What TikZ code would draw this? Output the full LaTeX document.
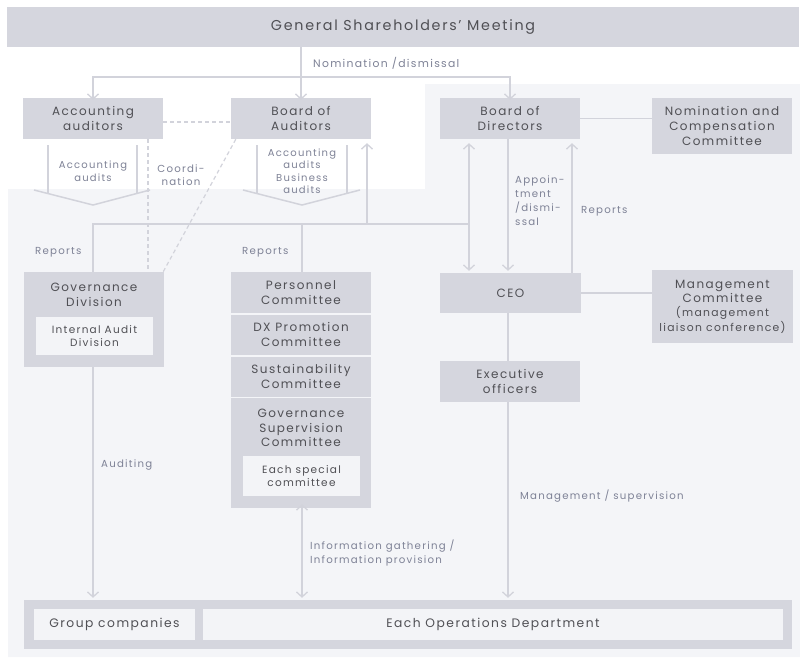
\documentclass[tikz,border=0pt]{standalone}
\usepackage{fontspec}
\setmainfont{Poppins}[LetterSpace=12]
\usetikzlibrary{arrows.meta,calc}
\definecolor{boxgray}{HTML}{D5D6DE}
\definecolor{bglight}{HTML}{F4F5F8}
\definecolor{innerw}{HTML}{F3F4F7}
\definecolor{linegray}{HTML}{D2D3DB}
\definecolor{txtdark}{HTML}{505055}
\definecolor{txtlabel}{HTML}{7E8296}
\tikzset{
  box/.style={fill=boxgray, text=txtdark, align=center, inner sep=0pt,
    font=\fontsize{12}{14.8}\selectfont},
  innerbox/.style={fill=innerw, text=txtdark, align=center, inner sep=0pt,
    font=\fontsize{10.5}{12.5}\selectfont},
  lab/.style={text=txtlabel, inner sep=0pt, font=\fontsize{10.2}{13.5}\selectfont},
  conn/.style={draw=linegray, line width=1.5pt},
  arr/.style={conn, -{Straight Barb[length=5pt,width=11pt,line width=1.3pt]}},
  darr/.style={conn, {Straight Barb[length=5pt,width=11pt,line width=1.3pt]}-{Straight Barb[length=5pt,width=11pt,line width=1.3pt]}},
  dsh/.style={draw=linegray, line width=1.2pt, dash pattern=on 4pt off 3pt},
}
\begin{document}
\begin{tikzpicture}[x=1pt,y=-1pt]
\useasboundingbox (0,0) rectangle (800,657);
\fill[white] (0,0) rectangle (800,657);
% light background region
\fill[bglight] (8,189) -- (425,189) -- (425,84) -- (800,84) -- (800,657) -- (8,657) -- cycle;

% top bar
\node[box, minimum width=792, minimum height=40, font=\fontsize{14.3}{15}\selectfont] (gsm) at (403,27) {General Shareholders' Meeting};

% first row
\node[box, minimum width=140, minimum height=41] (aa) at (93,118.5) {Accounting\\auditors};
\node[box, minimum width=140, minimum height=41] (boa) at (301,118.5) {Board of\\Auditors};
\node[box, minimum width=140, minimum height=41] (bod) at (510,118.5) {Board of\\Directors};
\node[box, minimum width=140, minimum height=56] (ncc) at (722,126) {Nomination and\\Compensation\\Committee};

% governance division
\node[box, minimum width=140, minimum height=95] (gov) at (94,319.5) {};
\node[box, fill=none] (govt) at (94,295) {Governance\\Division};
\node[innerbox, minimum width=117, minimum height=38] (iad) at (94.5,336) {Internal Audit\\Division};

% committee stack
\node[box, minimum width=140, minimum height=41] (pc) at (301,292.5) {Personnel\\Committee};
\node[box, minimum width=140, minimum height=40.5] (dx) at (301,334.75) {DX Promotion\\Committee};
\node[box, minimum width=140, minimum height=40] (sc) at (301,376.5) {Sustainability\\Committee};
\node[box, minimum width=140, minimum height=110] (gsc) at (301,453) {};
\node[box, fill=none] (gsct) at (301,428) {Governance\\Supervision\\Committee};
\node[innerbox, minimum width=117, minimum height=40] (esc) at (301.5,476) {Each special\\committee};

% CEO column
\node[box, minimum width=141, minimum height=73, font=\fontsize{12}{14.3}\selectfont] (mc) at (722.5,306.5) {Management\\Committee\\{\fontsize{10.8}{14.3}\selectfont(management}\\{\fontsize{10.8}{14.3}\selectfont liaison conference)}};
\node[box, minimum width=141, minimum height=40] (ceo) at (510.5,293) {CEO};
\node[box, minimum width=140, minimum height=41] (eo) at (510,381.5) {Executive\\officers};

% bottom
\node[box, minimum width=768, minimum height=49] (bot) at (408,624.5) {};
\node[innerbox, minimum width=161, minimum height=31, font=\fontsize{12.3}{14}\selectfont] (gc) at (114.5,624.5) {Group companies};
\node[innerbox, minimum width=580, minimum height=31, font=\fontsize{12.3}{14}\selectfont] (eod) at (493,624.5) {Each Operations Department};

% nomination / dismissal
\coordinate (nd) at (boa.north |- 0,77);
\draw[arr] (gsm.south -| boa.north) -- ([yshift=-2pt]boa.north);
\draw[arr] (nd) -| ([yshift=-2pt]aa.north);
\draw[arr] (nd) -| ([yshift=-2pt]bod.north);
\node[lab, anchor=west, font=\fontsize{10.8}{13}\selectfont] (ndl) at (313,63) {Nomination /dismissal};

% coordination dashed
\draw[dsh] (aa.east |- 0,122) -- (boa.west |- 0,122);
\draw[dsh] (aa.south -| 148,0) -- (gov.north -| 148,0);
\draw[dsh] ([xshift=5pt]boa.south west) -- ([xshift=-1pt]gov.north east);
\node[lab, align=center, font=\fontsize{10.2}{13}\selectfont] (coord) at (181,175) {Coordi-\\nation};

% audit chevrons
\coordinate (ca1) at (34,190); \coordinate (ca2) at (93,205); \coordinate (ca3) at (150,190);
\draw[conn] (ca1) -- (ca2) -- (ca3);
\draw[conn] (48,145) -- (48,193.6);
\draw[conn] (137,145) -- (137,193.2);
\node[lab, align=center, font=\fontsize{10}{12.5}\selectfont] (aal) at (93,171) {Accounting\\audits};
\coordinate (cb1) at (243,190); \coordinate (cb2) at (302,205); \coordinate (cb3) at (360,190);
\draw[conn] (cb1) -- (cb2) -- (cb3);
\draw[conn] (257,145) -- (257,193.6);
\draw[conn] (347,145) -- (347,193.3);
\node[lab, align=center, font=\fontsize{10}{12.5}\selectfont] (bal) at (302,171) {Accounting\\audits\\Business\\audits};

% reports lines
\coordinate (rr) at (469,224);
\draw[conn] (gov.north -| 93,0) -- (93,224) -- (rr);
\draw[conn] (pc.north -| 302,0) -- (302,224);
\draw[arr] (367,224) -- ([yshift=-4pt]boa.south -| 367,0);
\draw[darr] ([yshift=-4pt]bod.south -| 469,0) -- ([yshift=2pt]ceo.north -| 469,0);
\node[lab, anchor=west] (rep1) at (35,252) {Reports};
\node[lab, anchor=west] (rep2) at (242,252) {Reports};

% BoD <-> CEO
\draw[arr] (bod.south -| 508,0) -- ([yshift=2pt]ceo.north -| 508,0);
\node[lab, anchor=north west, align=left, font=\fontsize{10.2}{14}\selectfont] (app) at (515,176) {Appoin-\\tment\\/dismi-\\ssal};
\draw[arr] (ceo.north -| 572,0) -- ([yshift=-4pt]bod.south -| 572,0);
\node[lab, anchor=west] (rep3) at (581,211) {Reports};

% side links
\draw[conn] (bod.east) -- (ncc.west |- bod.east);
\draw[conn] (ceo.east) -- (mc.west |- ceo.east);
\draw[conn] (ceo.south -| 508,0) -- (eo.north -| 508,0);

% lower arrows
\draw[arr] (eo.south -| 508,0) -- ([yshift=2pt]bot.north -| 508,0);
\node[lab, anchor=west] (ms) at (520,496) {Management / supervision};
\draw[arr] (gov.south -| 93,0) -- ([yshift=2pt]bot.north -| 93,0);
\node[lab, anchor=west] (aud) at (101,465) {Auditing};
\draw[darr] ([yshift=4pt]gsc.south -| 302,0) -- ([yshift=2pt]bot.north -| 302,0);
\node[lab, anchor=west, align=left] (info) at (310,553) {Information gathering /\\Information provision};
\end{tikzpicture}
\end{document}
